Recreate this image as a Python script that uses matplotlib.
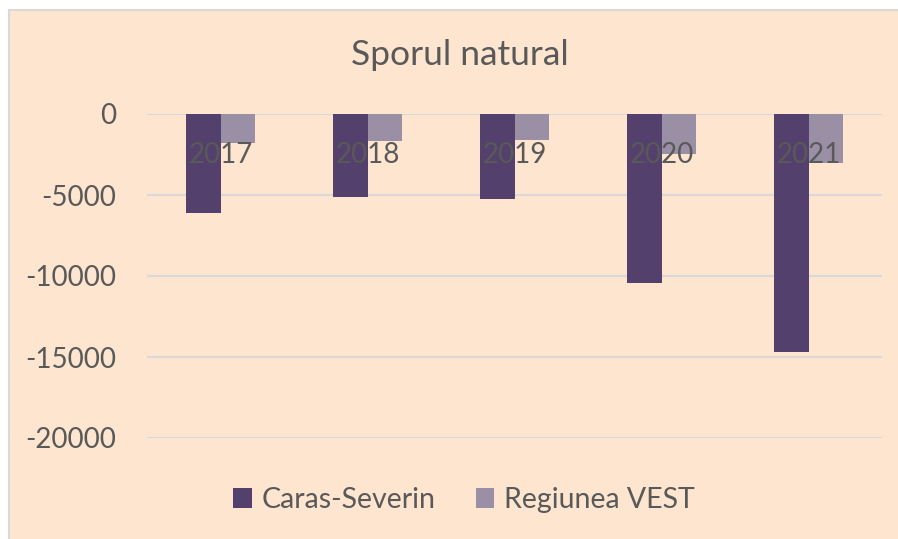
import matplotlib.pyplot as plt
import numpy as np
from matplotlib.patches import Rectangle, Patch

ani = ['2017', '2018', '2019', '2020', '2021']
caras_severin = [-6100, -5120, -5250, -10450, -14670]
regiunea_vest = [-1800, -1670, -1600, -2470, -3000]
serii = ['Caras-Severin', 'Regiunea VEST']

fond = '#FDE5CF'
gri = '#595959'
culori = ['#54406C', '#9B8FA5']

plt.rcParams['font.family'] = ['Lato', 'DejaVu Sans']
plt.rcParams['axes.unicode_minus'] = False

fig = plt.figure(figsize=(8.98, 5.39), dpi=100)
fig.patch.set_facecolor('white')
# zona graficului (doar marginea de sus si din stanga se vad)
fig.patches.append(Rectangle((9/898, -0.1), 1.2, 1.1 - 10/539, transform=fig.transFigure,
                             facecolor=fond, edgecolor='#D9D9D9', linewidth=1.5, zorder=-1))

ax = fig.add_axes([147/898, 1 - 438/539, 735/898, 324/539])
ax.patch.set_alpha(0)

x = np.arange(len(ani))
w = 0.238
ax.bar(x - w/2, caras_severin, w, color=culori[0], zorder=2)
ax.bar(x + w/2, regiunea_vest, w, color=culori[1], zorder=2)

ax.set_xlim(-0.5, len(ani) - 0.5)
ax.set_ylim(-20000, 0)
ax.set_yticks([0, -5000, -10000, -15000, -20000])
ax.yaxis.grid(True, color='#D9D9D9', linewidth=1.5, zorder=0)
ax.set_axisbelow(True)
ax.tick_params(axis='y', length=0, pad=22, labelsize=20, labelcolor=gri)
ax.set_xticks([])
for s in ax.spines.values():
    s.set_visible(False)

# etichetele anilor, langa axa de la 0
for i, an in enumerate(ani):
    ax.text(i, -2530, an, ha='center', va='center', fontsize=20, color=gri, zorder=5)

fig.text(460/898, 1 - 55/539, 'Sporul natural', ha='center', va='center',
         fontsize=25.5, color=gri)

handles = [Patch(facecolor=c) for c in culori]
fig.legend(handles, serii, loc='center', bbox_to_anchor=(464/898, 1 - 500/539),
           ncol=2, frameon=False, fontsize=20.5, labelcolor=gri,
           handlelength=0.65, handleheight=0.65, handletextpad=0.35, columnspacing=1.4)

fig.savefig('out.png', dpi=100, facecolor='white')
